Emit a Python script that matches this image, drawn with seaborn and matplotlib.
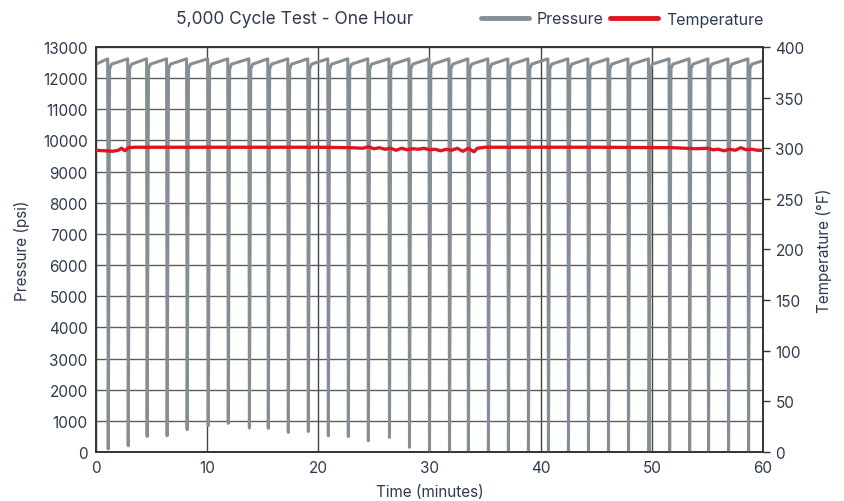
import matplotlib
matplotlib.use("Agg")
import matplotlib.pyplot as plt
import seaborn as sns
import pandas as pd
from matplotlib.lines import Line2D

# ---- data ----
drop_times = [1.1, 2.9, 4.6, 6.4, 8.2, 10.1, 11.9, 13.8, 15.5, 17.3, 19.1,
              20.9, 22.7, 24.5, 26.4, 28.2, 30.0, 31.8, 33.5, 35.3, 37.1, 38.9,
              40.7, 42.5, 44.3, 46.1, 47.9, 49.75, 51.6, 53.4, 55.1, 56.9, 58.7]
drop_minima = [100, 200, 500, 520, 720, 850, 920, 770, 760, 630, 660,
               520, 500, 360, 470, 150, 0, 0, 0, 0, 0, 0,
               0, 0, 0, 0, 0, 0, 0, 0, 0, 0, 0]
plateau_start = 12450   # pressure just after re-pressurising (psi)
plateau_end = 12620     # pressure just before each release (psi)

temp_times = [0, 0.8, 1.5, 2.0, 2.3, 2.6, 2.9, 3.5, 10, 20, 23, 24, 24.5, 25,
              25.5, 26, 26.5, 27, 27.5, 28, 28.5, 29, 29.5, 30, 30.5, 31, 31.5,
              32, 32.5, 33, 33.5, 34, 34.3, 35, 45, 52, 54, 55, 55.5, 56, 56.5,
              57, 57.5, 58, 58.5, 59, 59.5, 60]
temp_values = [298, 297.5, 297, 298, 300, 297.5, 300.5, 301, 301, 301, 300.5,
               300, 301.5, 299.5, 300.5, 299, 300, 298, 300, 298.5, 299.5, 299,
               300, 298.5, 299, 297.5, 299, 298, 300, 297, 300, 296.5, 300, 301,
               301, 300.5, 299.5, 300, 298.5, 299, 297.5, 299, 298, 300.5,
               298.5, 299, 298, 298]

x_ticks = [0, 10, 20, 30, 40, 50, 60]
p_ticks = list(range(0, 13001, 1000))
t_ticks = list(range(0, 401, 50))

# ---- build pressure trace vertices from the cycle table ----
pt, pv = [0.0], [plateau_start]
for td, m in zip(drop_times, drop_minima):
    pt += [td - 0.05, td, td + 0.12, td + 0.3]
    pv += [plateau_end, m, plateau_start - 150, plateau_start]
pt.append(60.0)
pv.append(plateau_end - 60)
pressure = pd.DataFrame({"time": pt, "pressure": pv})
temperature = pd.DataFrame({"time": temp_times, "temp": temp_values})

sns.set_theme(style="white")
plt.rcParams["font.family"] = ["Inter", "DejaVu Sans"]
text_c = "#2e3a4e"

fig = plt.figure(figsize=(8.45, 5.02), dpi=100)
ax = fig.add_axes([96 / 845, 49 / 502, (763 - 96) / 845, (453 - 48) / 502])
ax2 = ax.twinx()

gray = "#858e94"
red = "#e0151f"
sns.lineplot(data=pressure, x="time", y="pressure", ax=ax, color=gray,
             linewidth=2.2, estimator=None, sort=False, zorder=3)
sns.lineplot(data=temperature, x="time", y="temp", ax=ax2, color=red,
             linewidth=2.4, estimator=None, sort=False, zorder=3)

ax.set_xlim(0, 60)
ax.set_ylim(0, 13000)
ax2.set_ylim(0, 400)
ax.set_xticks(x_ticks)
ax.set_yticks(p_ticks)
ax2.set_yticks(t_ticks)

ax.grid(True, axis="y", color="#5c5c5c", linewidth=1.0)
ax.grid(True, axis="x", color="#444444", linewidth=1.0)
ax.set_axisbelow(True)
ax2.grid(False)

for a in (ax, ax2):
    for s in a.spines.values():
        s.set_color("#333333")
        s.set_linewidth(1.2)

fs = 11
ax.tick_params(axis="both", length=0, labelsize=fs, labelcolor=text_c, pad=6)
ax2.tick_params(axis="y", length=5, width=1, color="#333333", direction="out",
                labelsize=fs, labelcolor=text_c, pad=4)

ax.set_xlabel("Time (minutes)", fontsize=fs, color=text_c, labelpad=6)
ax.set_ylabel("Pressure (psi)", fontsize=fs, color=text_c, labelpad=9)
ax2.set_ylabel("Temperature (°F)", fontsize=fs, color=text_c, labelpad=8)

fig.text(295 / 845, 1 - 20 / 502, "5,000 Cycle Test - One Hour", ha="center",
         va="center", fontsize=12.5, color=text_c)

handles = [Line2D([], [], color=gray, linewidth=3.5),
           Line2D([], [], color=red, linewidth=3.5)]
fig.legend(handles, ["Pressure", "Temperature"], loc="center",
           bbox_to_anchor=(622 / 845, 1 - 20 / 502), ncol=2, frameon=False,
           fontsize=11.5, labelcolor=text_c, handlelength=3.0, columnspacing=0.4,
           handletextpad=0.5, borderaxespad=0)

fig.savefig("out.png", dpi=100)
